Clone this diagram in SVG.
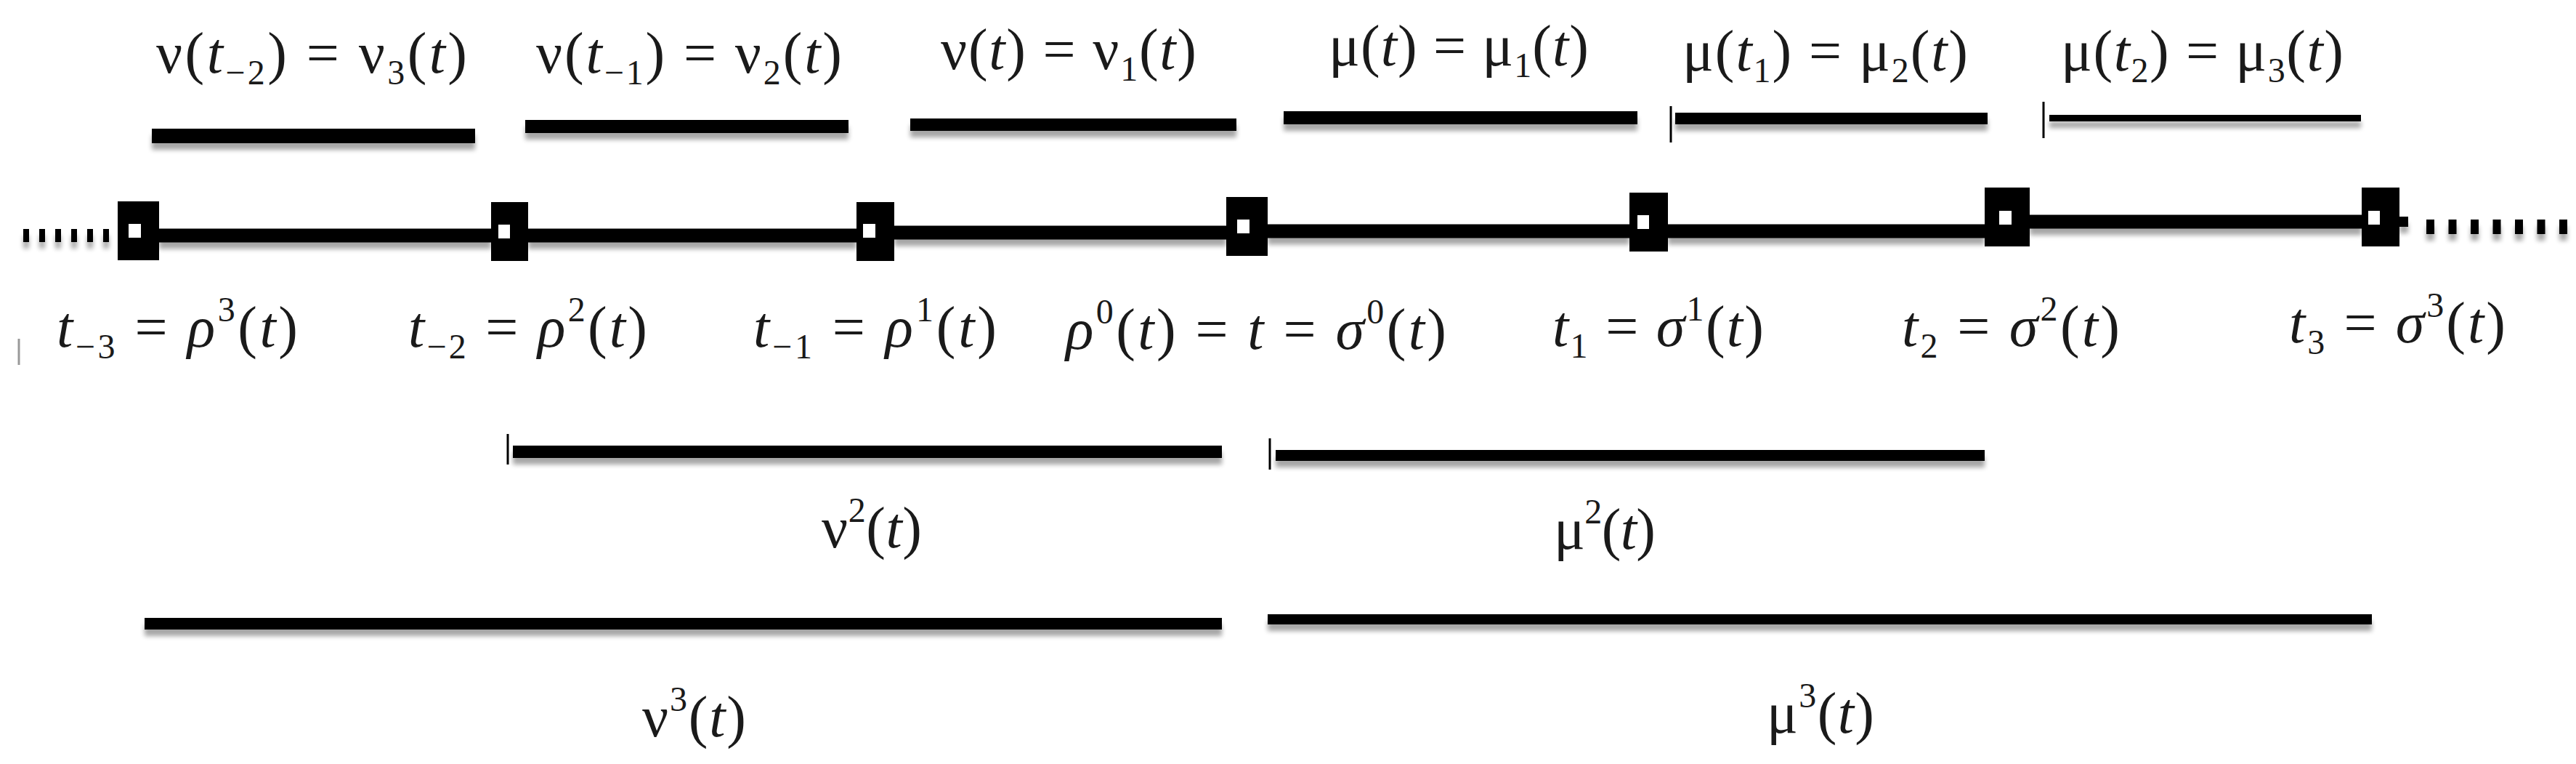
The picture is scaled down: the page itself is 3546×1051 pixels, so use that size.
<svg xmlns="http://www.w3.org/2000/svg" width="3546" height="1051" viewBox="0 0 3546 1051">
<defs>
<style>
text{font-family:"Liberation Serif","DejaVu Serif",serif;font-size:80px;fill:#1a1a1a}
.i{font-style:italic}
.s{font-size:48px}
.bar{fill:#000}
.tick{stroke:#000;stroke-width:3}
.seg{stroke:#000;fill:none}
.sq{fill:#000}
.hole{fill:#fff}
</style>
<filter id="sh" x="-5%" y="-100%" width="110%" height="400%">
<feGaussianBlur in="SourceAlpha" stdDeviation="3" result="b"/>
<feOffset in="b" dy="9" result="o"/>
<feComponentTransfer in="o" result="c"><feFuncA type="linear" slope="0.35"/></feComponentTransfer>
<feMerge><feMergeNode in="c"/><feMergeNode in="SourceGraphic"/></feMerge>
</filter>
</defs>
<rect width="3546" height="1051" fill="#fff"/>

<!-- connectors: the time axis -->
<g id="connectors" filter="url(#sh)">
<line class="seg" x1="32" y1="324" x2="162" y2="324" stroke-width="18" stroke-dasharray="8 14"/>
<line class="seg" x1="219" y1="324" x2="676" y2="324" stroke-width="19"/>
<line class="seg" x1="727" y1="324" x2="1179" y2="324" stroke-width="19"/>
<line class="seg" x1="1231" y1="320" x2="1688" y2="320" stroke-width="19"/>
<line class="seg" x1="1745" y1="318" x2="2243" y2="318" stroke-width="19"/>
<line class="seg" x1="2296" y1="318" x2="2732" y2="318" stroke-width="19"/>
<line class="seg" x1="2794" y1="305" x2="3251" y2="305" stroke-width="19"/>
<line class="seg" x1="3303" y1="305" x2="3315" y2="305" stroke-width="14"/>
<line class="seg" x1="3340" y1="312" x2="3536" y2="312" stroke-width="20" stroke-dasharray="11 19.5"/>
</g>
<line x1="26" y1="466" x2="26" y2="502" stroke="#999" stroke-width="3"/>

<!-- nodes -->
<g id="node-t-3">
<rect class="sq" x="162" y="277" width="57" height="81"/><rect class="hole" x="177" y="308" width="17" height="19"/>
<text x="78" y="477" textLength="332" lengthAdjust="spacing"><tspan class="i">t</tspan><tspan class="s" dy="16">−3</tspan><tspan dy="-16"> = </tspan><tspan class="i">ρ</tspan><tspan class="s" dy="-35">3</tspan><tspan dy="35">(</tspan><tspan class="i">t</tspan><tspan>)</tspan></text>
</g>
<g id="node-t-2">
<rect class="sq" x="676" y="278" width="51" height="81"/><rect class="hole" x="686" y="309" width="16" height="19"/>
<text x="562" y="477" textLength="329" lengthAdjust="spacing"><tspan class="i">t</tspan><tspan class="s" dy="16">−2</tspan><tspan dy="-16"> = </tspan><tspan class="i">ρ</tspan><tspan class="s" dy="-35">2</tspan><tspan dy="35">(</tspan><tspan class="i">t</tspan><tspan>)</tspan></text>
</g>
<g id="node-t-1">
<rect class="sq" x="1179" y="278" width="52" height="81"/><rect class="hole" x="1188" y="308" width="17" height="19"/>
<text x="1037" y="477" textLength="335" lengthAdjust="spacing"><tspan class="i">t</tspan><tspan class="s" dy="16">−1</tspan><tspan dy="-16"> = </tspan><tspan class="i">ρ</tspan><tspan class="s" dy="-35">1</tspan><tspan dy="35">(</tspan><tspan class="i">t</tspan><tspan>)</tspan></text>
</g>
<g id="node-t">
<rect class="sq" x="1688" y="271" width="57" height="81"/><rect class="hole" x="1703" y="302" width="17" height="19"/>
<text x="1467" y="480" textLength="524" lengthAdjust="spacing"><tspan class="i">ρ</tspan><tspan class="s" dy="-35">0</tspan><tspan dy="35">(</tspan><tspan class="i">t</tspan><tspan>) = </tspan><tspan class="i">t</tspan><tspan> = </tspan><tspan class="i">σ</tspan><tspan class="s" dy="-35">0</tspan><tspan dy="35">(</tspan><tspan class="i">t</tspan><tspan>)</tspan></text>
</g>
<g id="node-t1">
<rect class="sq" x="2243" y="265" width="53" height="81"/><rect class="hole" x="2254" y="296" width="16" height="19"/>
<text x="2137" y="476" textLength="291" lengthAdjust="spacing"><tspan class="i">t</tspan><tspan class="s" dy="16">1</tspan><tspan dy="-16"> = </tspan><tspan class="i">σ</tspan><tspan class="s" dy="-35">1</tspan><tspan dy="35">(</tspan><tspan class="i">t</tspan><tspan>)</tspan></text>
</g>
<g id="node-t2">
<rect class="sq" x="2732" y="258" width="62" height="81"/><rect class="hole" x="2752" y="290" width="17" height="19"/>
<text x="2618" y="476" textLength="300" lengthAdjust="spacing"><tspan class="i">t</tspan><tspan class="s" dy="16">2</tspan><tspan dy="-16"> = </tspan><tspan class="i">σ</tspan><tspan class="s" dy="-35">2</tspan><tspan dy="35">(</tspan><tspan class="i">t</tspan><tspan>)</tspan></text>
</g>
<g id="node-t3">
<rect class="sq" x="3251" y="258" width="52" height="81"/><rect class="hole" x="3260" y="290" width="16" height="19"/>
<text x="3151" y="471" textLength="298" lengthAdjust="spacing"><tspan class="i">t</tspan><tspan class="s" dy="16">3</tspan><tspan dy="-16"> = </tspan><tspan class="i">σ</tspan><tspan class="s" dy="-35">3</tspan><tspan dy="35">(</tspan><tspan class="i">t</tspan><tspan>)</tspan></text>
</g>

<!-- top intervals -->
<g id="interval-nu3">
<rect class="bar" x="209" y="177" width="445" height="20" filter="url(#sh)"/>
<text x="215" y="100" textLength="428" lengthAdjust="spacing"><tspan>ν(</tspan><tspan class="i">t</tspan><tspan class="s" dy="16">−2</tspan><tspan dy="-16">) = ν</tspan><tspan class="s" dy="16">3</tspan><tspan dy="-16">(</tspan><tspan class="i">t</tspan><tspan>)</tspan></text>
</g>
<g id="interval-nu2">
<rect class="bar" x="723" y="165" width="445" height="18" filter="url(#sh)"/>
<text x="738" y="100" textLength="421" lengthAdjust="spacing"><tspan>ν(</tspan><tspan class="i">t</tspan><tspan class="s" dy="16">−1</tspan><tspan dy="-16">) = ν</tspan><tspan class="s" dy="16">2</tspan><tspan dy="-16">(</tspan><tspan class="i">t</tspan><tspan>)</tspan></text>
</g>
<g id="interval-nu1">
<rect class="bar" x="1253" y="163" width="449" height="17" filter="url(#sh)"/>
<text x="1295" y="95" textLength="352" lengthAdjust="spacing"><tspan>ν(</tspan><tspan class="i">t</tspan><tspan>) = ν</tspan><tspan class="s" dy="16">1</tspan><tspan dy="-16">(</tspan><tspan class="i">t</tspan><tspan>)</tspan></text>
</g>
<g id="interval-mu1">
<rect class="bar" x="1767" y="153" width="487" height="18" filter="url(#sh)"/>
<text x="1829" y="90" textLength="358" lengthAdjust="spacing"><tspan>μ(</tspan><tspan class="i">t</tspan><tspan>) = μ</tspan><tspan class="s" dy="16">1</tspan><tspan dy="-16">(</tspan><tspan class="i">t</tspan><tspan>)</tspan></text>
</g>
<g id="interval-mu2">
<line class="tick" x1="2300" y1="146" x2="2300" y2="196"/>
<rect class="bar" x="2306" y="155" width="430" height="16" filter="url(#sh)"/>
<text x="2316" y="97" textLength="393" lengthAdjust="spacing"><tspan>μ(</tspan><tspan class="i">t</tspan><tspan class="s" dy="16">1</tspan><tspan dy="-16">) = μ</tspan><tspan class="s" dy="16">2</tspan><tspan dy="-16">(</tspan><tspan class="i">t</tspan><tspan>)</tspan></text>
</g>
<g id="interval-mu3">
<line class="tick" x1="2813" y1="140" x2="2813" y2="190"/>
<rect class="bar" x="2821" y="158" width="429" height="9" filter="url(#sh)"/>
<text x="2837" y="97" textLength="389" lengthAdjust="spacing"><tspan>μ(</tspan><tspan class="i">t</tspan><tspan class="s" dy="16">2</tspan><tspan dy="-16">) = μ</tspan><tspan class="s" dy="16">3</tspan><tspan dy="-16">(</tspan><tspan class="i">t</tspan><tspan>)</tspan></text>
</g>

<!-- lower intervals -->
<g id="interval-nu-sq">
<line class="tick" x1="699" y1="597" x2="699" y2="639"/>
<rect class="bar" x="706" y="613" width="976" height="17" filter="url(#sh)"/>
<text x="1131" y="753" textLength="138" lengthAdjust="spacing"><tspan>ν</tspan><tspan class="s" dy="-35">2</tspan><tspan dy="35">(</tspan><tspan class="i">t</tspan><tspan>)</tspan></text>
</g>
<g id="interval-mu-sq">
<line class="tick" x1="1748" y1="603" x2="1748" y2="646"/>
<rect class="bar" x="1756" y="619" width="976" height="15" filter="url(#sh)"/>
<text x="2139" y="755" textLength="140" lengthAdjust="spacing"><tspan>μ</tspan><tspan class="s" dy="-35">2</tspan><tspan dy="35">(</tspan><tspan class="i">t</tspan><tspan>)</tspan></text>
</g>
<g id="interval-nu-cube">
<rect class="bar" x="199" y="850" width="1483" height="16" filter="url(#sh)"/>
<text x="884" y="1013" textLength="143" lengthAdjust="spacing"><tspan>ν</tspan><tspan class="s" dy="-35">3</tspan><tspan dy="35">(</tspan><tspan class="i">t</tspan><tspan>)</tspan></text>
</g>
<g id="interval-mu-cube">
<rect class="bar" x="1745" y="845" width="1520" height="14" filter="url(#sh)"/>
<text x="2432" y="1008" textLength="148" lengthAdjust="spacing"><tspan>μ</tspan><tspan class="s" dy="-35">3</tspan><tspan dy="35">(</tspan><tspan class="i">t</tspan><tspan>)</tspan></text>
</g>
</svg>
